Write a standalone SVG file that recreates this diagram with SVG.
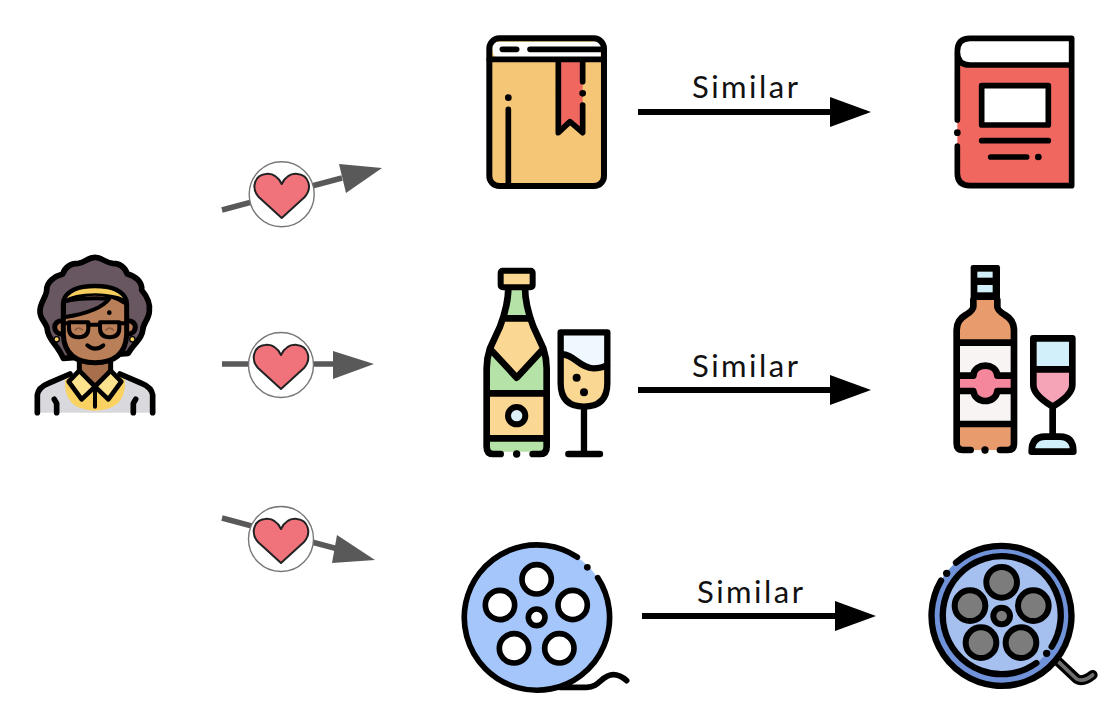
<svg xmlns="http://www.w3.org/2000/svg" width="1108" height="707" viewBox="0 0 1108 707">
<style>
.k{stroke:#000;stroke-width:17;stroke-linecap:round;stroke-linejoin:round;fill:none}
.f{stroke:none}
.g{stroke:#000;stroke-width:17;stroke-linejoin:round}
.lbl{font-family:"Lato","Liberation Sans",sans-serif;font-size:31px;letter-spacing:2.5px;fill:#111}
.badge{fill:#fff;stroke:#777;stroke-width:1.4}
.heart{fill:#f0737c;stroke:#222;stroke-width:2;stroke-linejoin:round}
.love{stroke:#595959;stroke-width:5.5;fill:none}
.lovehead{fill:#595959}
.sim{stroke:#000;stroke-width:6;fill:none}
</style>
<defs>
<path id="hrt" d="M0,22 L-23,1 C-31,-8 -27,-21 -16,-22 C-8,-23 -3,-18 0,-12 C3,-18 8,-23 16,-22 C27,-21 31,-8 23,1 Z"/>
</defs>
<rect width="1108" height="707" fill="#fff"/>

<g id="connectors">
<path class="love" d="M222,210 L342,178"/><polygon class="lovehead" points="339,164 382,168 346,193"/>
<path class="love" d="M222,364 L336,364"/><polygon class="lovehead" points="333,351 374,364 333,379"/>
<path class="love" d="M222,518 L338,549"/><polygon class="lovehead" points="337,535 375,560 332,563"/>
<path class="sim" d="M638,112 H832"/><polygon points="830,97 871,112 830,127"/>
<path class="sim" d="M638,390 H832"/><polygon points="830,375 871,390 830,405"/>
<path class="sim" d="M642,616 H836"/><polygon points="835,601 876,616 835,631"/>
</g>

<g id="labels">
<text class="lbl" x="692" y="98">Similar</text>
<text class="lbl" x="692" y="377">Similar</text>
<text class="lbl" x="697" y="603">Similar</text>
</g>

<g id="love-1"><circle class="badge" cx="281.7" cy="194.3" r="32.5"/><use href="#hrt" class="heart" x="281.7" y="196"/></g>
<g id="love-2"><circle class="badge" cx="281" cy="365" r="32.5"/><use href="#hrt" class="heart" x="281" y="367"/></g>
<g id="love-3"><circle class="badge" cx="281" cy="539" r="32.5"/><use href="#hrt" class="heart" x="281" y="541"/></g>

<g id="person" transform="translate(20,240) scale(.3333)">
<path d="M225,52 C245,52 255,68 278,70 C300,70 315,82 322,102 C345,108 368,125 365,150 C382,170 392,190 388,215 C386,240 368,250 368,272 C365,300 340,310 325,340 L130,355 C110,310 85,300 82,270 C82,250 60,240 60,215 C58,190 80,170 80,150 C80,125 105,108 128,102 C135,82 150,70 175,70 C195,68 205,52 225,52 Z" fill="#685760" stroke="#000" stroke-width="17" stroke-linejoin="round"/>
<path d="M50,518 V465 Q55,442 85,430 L178,390 H272 L365,430 Q395,442 398,465 V518 Z" fill="#d9d8dc" class="f"/>
<path d="M135,420 L178,392 H272 L315,420 Q320,510 225,512 Q130,510 135,420 Z" fill="#f9d262" class="f"/>
<path class="k" d="M52,518 V465 Q55,442 85,430 L150,402 M300,402 L365,430 Q395,442 398,465 V518"/>
<path class="k" d="M110,518 V490 L103,478 M340,518 V490 L347,478"/>
<path d="M178,350 H272 V395 L225,440 L178,395 Z" fill="#a86f4c" stroke="#000" stroke-width="15" stroke-linejoin="round"/>
<path d="M178,392 L146,425 L185,478 L225,440 Z M272,392 L304,425 L265,478 L225,440 Z" fill="#fde38e" stroke="#000" stroke-width="14" stroke-linejoin="round"/>
<path class="k" style="stroke-width:12" d="M225,440 V500"/>
<circle cx="124" cy="262" r="20" fill="#b87f58" stroke="#000" stroke-width="15"/>
<circle cx="326" cy="262" r="20" fill="#b87f58" stroke="#000" stroke-width="15"/>
<path d="M130,190 V285 Q135,368 225,368 Q315,368 320,285 V190 Q225,130 130,190 Z" fill="#b87f58" stroke="#000" stroke-width="15" stroke-linejoin="round"/>
<path d="M132,232 V185 Q180,172 268,176 Q240,215 132,232 Z" fill="#685760" stroke="#000" stroke-width="12" stroke-linejoin="round"/>
<path d="M132,180 Q150,143 225,143 Q300,143 318,180 Q300,163 225,160 Q160,160 132,180 Z" fill="#f7cf5e" class="f"/>
<path class="k" style="stroke-width:13" d="M130,182 Q146,138 225,138 Q304,138 320,182"/>
<circle cx="268" cy="218" r="7"/>
<circle cx="110" cy="298" r="8" fill="#f7cf5e" stroke="#000" stroke-width="4"/>
<circle cx="337" cy="298" r="8" fill="#f7cf5e" stroke="#000" stroke-width="4"/>
<path d="M147,247 H205 V265 Q205,292 176,292 Q147,292 147,265 Z M240,247 H298 V265 Q298,292 269,292 Q240,292 240,265 Z" fill="#b87f58" stroke="#000" stroke-width="12" stroke-linejoin="round"/>
<path class="k" d="M205,254 H240 M130,250 H147 M298,250 H320" style="stroke-width:12"/>
<path d="M165,270 Q176,258 187,270 M258,270 Q269,258 280,270" fill="none" stroke="#8a5a3c" stroke-width="5" stroke-linecap="round"/>
<path class="k" d="M202,316 Q225,336 250,316" style="stroke-width:12"/>
</g>

<g id="book-yellow" transform="translate(470,20) scale(.3333)">
<rect x="58" y="55" width="344" height="443" rx="30" fill="#f6c677"/>
<path d="M68,65 H392 V115 H90 Q68,115 68,90 Z" fill="#fff" class="f"/>
<path d="M265,125 H338 V338 L300,305 L265,338 Z" fill="#f0675f" class="f"/>
<path class="k" d="M58,118 H400 M97,88 H140 M180,88 H392 M265,125 V338 L300,305 L338,338 V255 M338,125 V185 M115,268 V490"/>
<circle cx="115" cy="233" r="10"/><circle cx="338" cy="220" r="10"/>
<rect x="58" y="55" width="344" height="443" rx="30" fill="none" stroke="#000" stroke-width="18"/>
</g>

<g id="book-red" transform="translate(940,20) scale(.3333)">
<path d="M395,55 H90 Q52,55 52,95 V460 Q52,497 90,497 H395 Z" fill="#f0675f" class="f"/>
<path d="M395,55 H90 Q52,55 52,95 Q52,135 90,135 H395 Z" fill="#fff" class="f"/>
<path class="k" d="M395,135 H90 Q52,135 52,95 M395,497 V55 H90 Q52,55 52,95 V300 M52,378 V460 Q52,497 90,497 H395 M125,362 H325 M152,411 H260"/>
<rect x="125" y="197" width="200" height="118" fill="#fff" class="g"/>
<circle cx="52" cy="338" r="10"/><circle cx="295" cy="411" r="10"/>
</g>

<g id="champagne" transform="translate(470,255) scale(.3333)">
<path d="M115,97 H165 Q165,140 180,190 L220,280 Q230,310 230,340 V590 H50 V340 Q50,310 60,280 L100,190 Q115,140 115,97 Z" fill="#b5e2a6" class="f"/>
<path d="M100,190 H180 L215,285 L140,365 L65,285 Z" fill="#fbd794" class="f"/>
<rect x="50" y="415" width="180" height="135" fill="#fbd794" class="f"/>
<path class="k" style="stroke-width:20" d="M92,597 H70 Q50,597 50,575 V340 Q50,310 60,280 L90,215 Q115,150 115,97 M165,97 Q165,150 190,215 L220,280 Q230,310 230,340 V575 Q230,597 210,597 H188 M100,190 H180 M68,290 L140,368 L212,290 M50,415 H230 M50,550 H230"/>
<rect x="92" y="47" width="96" height="50" rx="6" fill="#fbd794" stroke="#000" stroke-width="18" stroke-linejoin="round"/>
<circle cx="140" cy="482" r="26" fill="#dcf1f7" stroke="#000" stroke-width="18"/>
<circle cx="140" cy="597" r="11"/>
<path d="M272,232 H412 V385 Q412,455 342,455 Q272,455 272,385 Z" fill="#fbd794" class="f"/>
<path d="M272,232 H412 V330 Q395,340 370,340 C330,340 310,295 272,298 Z" fill="#eff7ff" class="f"/>
<path class="k" d="M272,298 C310,295 330,340 370,340 Q395,340 412,330 M272,232 H412 V385 Q412,455 342,455 Q272,455 272,385 Z M342,455 V597 M295,597 H390" style="stroke-width:19"/>
<circle cx="320" cy="368" r="12"/><circle cx="342" cy="412" r="12"/>
</g>

<g id="wine" transform="translate(940,255) scale(.3333)">
<path d="M100,135 H172 V155 Q172,165 195,180 Q222,195 222,225 V585 H50 V225 Q50,195 77,180 Q100,165 100,155 Z" fill="#e89b6c" class="f"/>
<rect x="50" y="262" width="172" height="245" fill="#f7f4f3" class="f"/>
<rect x="50" y="370" width="172" height="30" fill="#f4879c" class="f"/>
<path d="M100,362 C102,340 120,332 136,332 C152,332 170,340 172,362 V400 C170,425 152,436 136,436 C120,436 102,425 100,400 Z" fill="#f4879c" class="f"/>
<path class="k" style="stroke-width:20" d="M92,585 H68 Q50,585 50,565 V225 Q50,195 77,180 Q100,165 100,155 V135 M172,135 V155 Q172,165 195,180 Q222,195 222,225 V565 Q222,585 204,585 H180 M50,263 H222 M50,507 H222 M50,362 H100 C102,340 120,332 136,332 C152,332 170,340 172,362 H222 M50,408 H100 C102,428 120,438 136,438 C152,438 170,428 172,408 H222" />
<rect x="92" y="30" width="88" height="105" rx="7" fill="#000"/>
<rect x="112" y="50" width="46" height="18" fill="#d2f0fa"/>
<rect x="112" y="90" width="46" height="22" fill="#d2f0fa"/>
<circle cx="135" cy="585" r="11"/>
<path d="M280,250 H397 V390 Q397,420 338,455 Q280,420 280,390 Z" fill="#f5a3b7" class="f"/>
<rect x="280" y="250" width="117" height="93" fill="#d2f0fa" class="f"/>
<path d="M275,590 Q275,545 315,545 H360 Q400,545 400,590 Z" fill="#d2f0fa" stroke="#000" stroke-width="20" stroke-linejoin="round"/>
<path class="k" style="stroke-width:20" d="M280,343 H397 M280,250 H397 V390 Q397,420 338,455 Q280,420 280,390 Z M338,455 V545"/>
</g>

<g id="reel-blue" transform="translate(450,530) scale(.3333)">
<circle cx="260" cy="262" r="218" fill="#a4c6fa"/>
<path class="k" d="M443,143 A218,218 0 1 1 382,81.5 M330,472 H410 C450,472 455,434 490,434 Q510,434 530,452"/>
<circle cx="412" cy="112" r="10"/>
<g fill="#fff" stroke="#000" stroke-width="17">
<circle cx="260" cy="148" r="44"/><circle cx="368" cy="225" r="44"/><circle cx="150" cy="225" r="44"/><circle cx="192" cy="355" r="44"/><circle cx="328" cy="355" r="44"/><circle cx="260" cy="262" r="25"/>
</g>
</g>

<g id="reel-dark" transform="translate(920,530) scale(.3333)">
<path d="M415,395 L470,447 Q490,458 518,435" fill="none" stroke="#000" stroke-width="30" stroke-linecap="round" stroke-linejoin="round"/>
<path d="M415,395 L470,447 Q490,458 518,435" fill="none" stroke="#6f6f6f" stroke-width="11" stroke-linecap="round" stroke-linejoin="round"/>
<circle cx="246" cy="255" r="210" fill="#6f92d8"/>
<circle cx="246" cy="255" r="177" fill="#a5c0ee"/>
<path class="k" style="stroke-width:19" d="M108,98 A210,210 0 1 1 63,152 M395,350 A177,177 0 1 0 349,399"/>
<circle cx="80" cy="130" r="11"/><circle cx="380" cy="370" r="11"/>
<g fill="#7c7c7c" stroke="#000" stroke-width="18">
<circle cx="245" cy="157" r="46"/><circle cx="340" cy="227" r="46"/><circle cx="150" cy="227" r="46"/><circle cx="183" cy="338" r="46"/><circle cx="303" cy="338" r="46"/><circle cx="245" cy="258" r="25"/>
</g>
</g>
</svg>
